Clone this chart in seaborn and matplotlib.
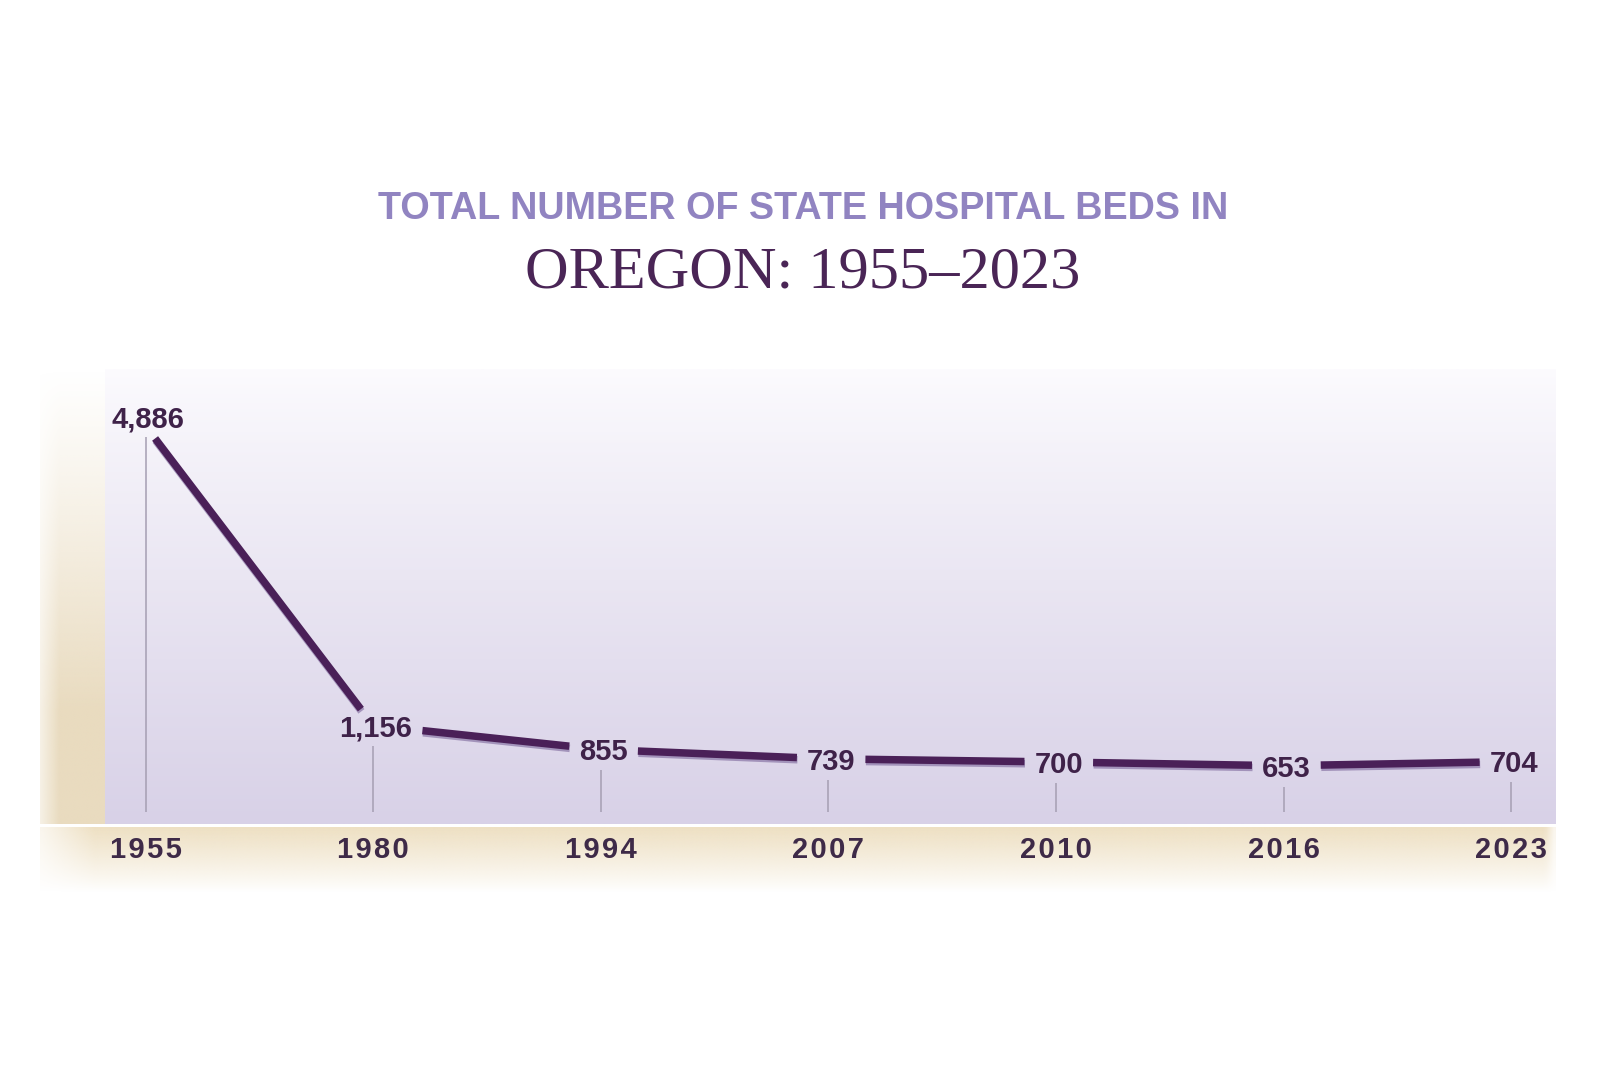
import numpy as np
import pandas as pd
import matplotlib
matplotlib.use("Agg")
import matplotlib.pyplot as plt
import seaborn as sns
from matplotlib import patheffects as pe
import matplotlib.colors as mcolors

# ---- data ----
years = ["1955", "1980", "1994", "2007", "2010", "2016", "2023"]
beds = [4886, 1156, 855, 739, 700, 653, 704]
value_labels = ["4,886", "1,156", "855", "739", "700", "653", "704"]
subtitle = "TOTAL NUMBER OF STATE HOSPITAL BEDS IN"
title = "OREGON: 1955\u20132023"

sns.set_style("white")
plt.rcParams['font.family'] = ['Liberation Sans', 'DejaVu Sans']

W, H = 1597, 1080
fig = plt.figure(figsize=(W / 100, H / 100), dpi=100)
fig.patch.set_facecolor('white')

def fx(px):
    return px / W

def fy(py):
    return 1 - py / H

LEFT, RIGHT, TOP, BASE = 40, 1556, 369, 824
STRIP_R = 105
BAND_TOP, BAND_BOT = 827, 892

XMIN, XMAX = -0.464, 6.197
YMIN, YMAX = -73, 5596
VLINE_BOTTOM = 75

top_col = np.array(mcolors.to_rgb('#fcfbfe'))
bot_col = np.array(mcolors.to_rgb('#d8d1e7'))
beige = np.array(mcolors.to_rgb('#e9dbbf'))
band_col = np.array(mcolors.to_rgb('#eee0c3'))

def lav(t):
    t = np.clip(t, 0, 1) ** 0.9
    return top_col + (bot_col - top_col) * t

# ---- bottom band ----
bax = fig.add_axes([fx(LEFT), fy(BAND_BOT), fx(RIGHT - LEFT), (BAND_BOT - BAND_TOP) / H])
bax.set_zorder(0)
nr, nc = 120, 400
tt = np.linspace(0, 1, nr)[:, None]
xx = np.linspace(0, 1, nc)[None, :]
band = np.zeros((nr, nc, 4))
band[..., :3] = band_col
a_v = np.clip(1 - tt, 0, 1) ** 0.9
a_h = np.clip(xx / 0.035, 0, 1) * np.clip((1 - xx) / 0.006, 0, 1)
band[..., 3] = a_v * (0.3 + 0.7 * a_h)
bax.imshow(band, extent=[0, 1, 0, 1], aspect='auto', interpolation='bilinear')
bax.set_xlim(0, 1)
bax.set_ylim(0, 1)
bax.axis('off')

# ---- main axes ----
ax = fig.add_axes([fx(LEFT), fy(BASE), fx(RIGHT - LEFT), (BASE - TOP) / H])
ax.set_zorder(2)
ax.patch.set_alpha(0)

sfrac = (STRIP_R - LEFT) / (RIGHT - LEFT)
rows = np.linspace(0, 1, 300)[:, None]
lavimg = np.ones((300, 2, 3)) * lav(rows).reshape(300, 1, 3)
ax.imshow(lavimg, extent=[sfrac, 1, 0, 1], transform=ax.transAxes,
          aspect='auto', interpolation='bilinear', zorder=0)

strip = np.zeros((300, 60, 4))
strip[..., :3] = beige
sv = np.clip(rows / 0.75, 0, 1) ** 1.1
sh = np.clip(np.linspace(0, 1, 60)[None, :] / 0.3, 0, 1)
strip[..., 3] = sv * (0.4 + 0.6 * sh)
ax.imshow(strip, extent=[0, sfrac, 0, 1], transform=ax.transAxes,
          aspect='auto', interpolation='bilinear', zorder=0)

idx = np.arange(len(years))
ax.set_xlim(XMIN, XMAX)
ax.set_ylim(YMIN, YMAX)
ax.set_xticks(idx)
ax.set_xticklabels(["\u200a".join(y) for y in years])
ax.set_yticks([])
ax.tick_params(axis='x', length=0, pad=9, labelsize=21, labelcolor='#3e2a48')
for lbl in ax.get_xticklabels():
    lbl.set_fontweight('bold')
for s in ax.spines.values():
    s.set_visible(False)

# ---- value labels ----
dys = [4.7 if i == 0 else -2 for i in idx]
texts = []
for i, (v, lab) in enumerate(zip(beds, value_labels)):
    t = ax.annotate(lab, (i, v), xytext=(2, dys[i]), textcoords='offset points',
                    ha='center', va='center', fontsize=21, fontweight='bold',
                    color='#3f2249', zorder=5)
    texts.append(t)

fig.canvas.draw()
renderer = fig.canvas.get_renderer()
MX, MY = 10, 5
rects = []
for t in texts:
    bb = t.get_window_extent(renderer)
    rects.append((bb.x0 - MX, bb.x1 + MX, bb.y0 - MY, bb.y1 + MY))

# ---- main line via seaborn, then split around labels ----
sns.lineplot(x=idx, y=beds, ax=ax)
full = ax.lines[-1]
pts = ax.transData.transform(full.get_xydata())
full.remove()

def exit_param(p, d, r):
    x0, x1, y0, y1 = r
    if not (x0 <= p[0] <= x1 and y0 <= p[1] <= y1):
        return 0.0
    ts = []
    if d[0] > 0:
        ts.append((x1 - p[0]) / d[0])
    elif d[0] < 0:
        ts.append((x0 - p[0]) / d[0])
    if d[1] > 0:
        ts.append((y1 - p[1]) / d[1])
    elif d[1] < 0:
        ts.append((y0 - p[1]) / d[1])
    return min(ts) if ts else 0.0

inv = ax.transData.inverted()
seg_rows = []
for i in range(len(pts) - 1):
    p, q = pts[i], pts[i + 1]
    d = q - p
    ta = exit_param(p, d, rects[i])
    tb = 1 - exit_param(q, -d, rects[i + 1])
    a = inv.transform(p + ta * d)
    b = inv.transform(p + tb * d)
    seg_rows.append({'x': a[0], 'y': a[1], 'seg': i})
    seg_rows.append({'x': b[0], 'y': b[1], 'seg': i})
segs = pd.DataFrame(seg_rows)

n0 = len(ax.lines)
sns.lineplot(data=segs, x='x', y='y', units='seg', estimator=None, sort=False,
             ax=ax, color='#4a2058', linewidth=5.4, zorder=3)
for ln in ax.lines[n0:]:
    ln.set_solid_capstyle('butt')
    ln.set_path_effects([pe.SimpleLineShadow(offset=(0.4, -1.6), shadow_color='#8a76a6', alpha=0.7),
                         pe.Normal()])

# ---- thin drop lines starting just below each label ----
vtops = [inv.transform((0, r[2] + MY - 4))[1] for r in rects]
ax.vlines(idx, ymin=VLINE_BOTTOM, ymax=vtops, color='#a59eb2', lw=1.1, zorder=2)

ax.set_xlim(XMIN, XMAX)
ax.set_ylim(YMIN, YMAX)
ax.set_xlabel('')
ax.set_ylabel('')

# ---- titles ----
fig.text(0.503, fy(219), subtitle, ha='center', va='baseline',
         fontsize=27.2, fontweight='bold', color='#9184c1')
fig.text(0.5025, fy(287), title, ha='center', va='baseline',
         fontsize=43.5, color='#4a2556', family=['Liberation Serif', 'DejaVu Serif'])

fig.savefig('out.png', dpi=100, facecolor='white')
